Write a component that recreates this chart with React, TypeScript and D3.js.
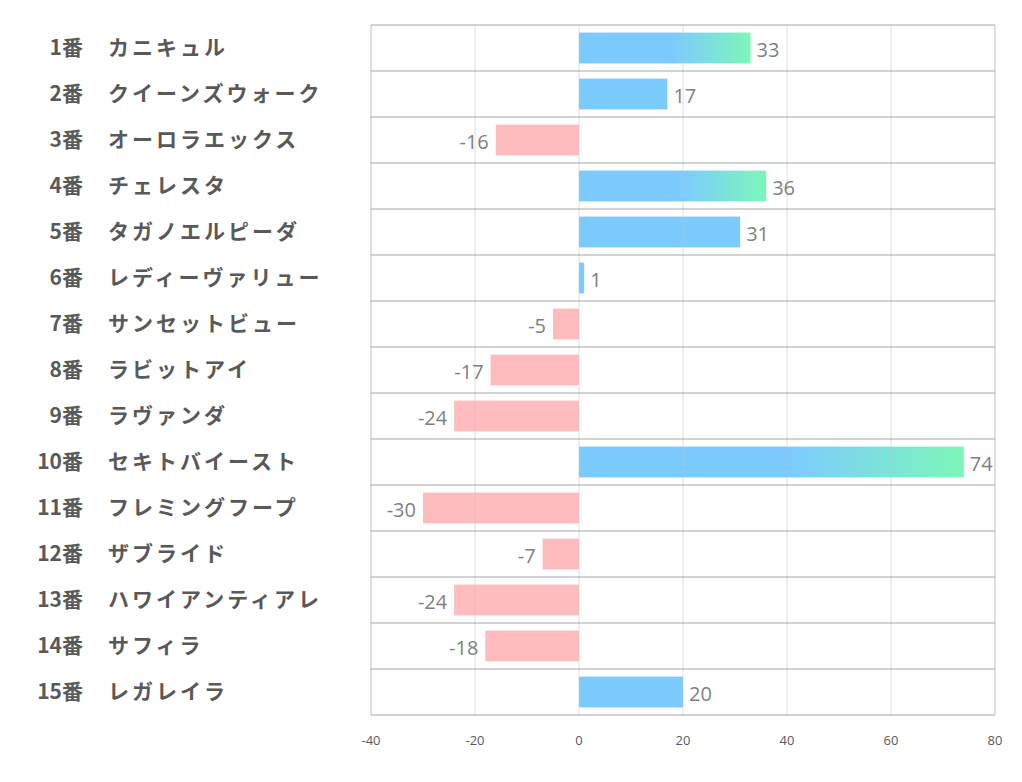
import React from "react";
import * as d3 from "d3";

const numbers = ["1番","2番","3番","4番","5番","6番","7番","8番","9番","10番","11番","12番","13番","14番","15番"];
const names = ["カニキュル","クイーンズウォーク","オーロラエックス","チェレスタ","タガノエルピーダ","レディーヴァリュー","サンセットビュー","ラビットアイ","ラヴァンダ","セキトバイースト","フレミングフープ","ザブライド","ハワイアンティアレ","サフィラ","レガレイラ"];
const values = [33,17,-16,36,31,1,-5,-17,-24,74,-30,-7,-24,-18,20];
const ticks = [-40,-20,0,20,40,60,80];

export default function App() {
  const W = 1022, H = 782;
  const left = 371, right = 995, top = 25, bottom = 715;
  const x = d3.scaleLinear().domain([-40, 80]).range([left, right]);
  const y = d3.scaleBand<number>().domain(d3.range(values.length)).range([top, bottom]).paddingInner(0.33).paddingOuter(0.165);
  const step = (bottom - top) / values.length;
  const top3 = [...values].sort((a, b) => b - a).slice(0, 3);
  const jp = "'Noto Sans CJK JP', 'Noto Sans', sans-serif";
  const lat = "'Open Sans', 'Noto Sans', sans-serif";
  return (
    <svg width={W} height={H} style={{ position: "absolute", left: 0, top: 0, background: "#fff" }}>
      <defs>
        <linearGradient id="grad" x1="0" x2="1" y1="0" y2="0">
          <stop offset="0.55" stopColor="#7ccbff" />
          <stop offset="1" stopColor="#7cf7b9" />
        </linearGradient>
      </defs>
      {values.map((v, i) => {
        const x0 = x(Math.min(0, v)), x1 = x(Math.max(0, v));
        const fill = v < 0 ? "#ffbcbf" : top3.includes(v) ? "url(#grad)" : "#7ccbff";
        return <rect key={i} x={x0} y={y(i)!} width={x1 - x0} height={y.bandwidth()} fill={fill} />;
      })}
      {ticks.map((t) => (
        <line key={t} x1={x(t)} x2={x(t)} y1={top} y2={bottom} stroke="#bfbfbf" strokeOpacity={t === -40 || t === 80 ? 1 : 0.5} strokeWidth={1} />
      ))}
      {d3.range(values.length + 1).map((i) => (
        <line key={i} x1={left} x2={right} y1={top + i * step} y2={top + i * step} stroke="#a6a6a6" strokeWidth={1} />
      ))}
      {values.map((v, i) => (
        <text key={i} x={v < 0 ? x(v) - 7 : x(v) + 6} y={y(i)! + y.bandwidth() / 2 + 1} dominantBaseline="central"
          textAnchor={v < 0 ? "end" : "start"} fontFamily={lat} fontSize={20} fill="#7f7f7f">{v}</text>
      ))}
      {numbers.map((n, i) => (
        <text key={i} x={83} y={top + i * step + step / 2 - 2} dominantBaseline="central" textAnchor="end"
          fontFamily={jp} fontWeight="bold" fontSize={21} fill="#595959">{n}</text>
      ))}
      {names.map((n, i) => (
        <text key={i} x={108} y={top + i * step + step / 2 - 2} dominantBaseline="central" textAnchor="start"
          fontFamily={jp} fontWeight="bold" fontSize={21} letterSpacing={3} fill="#595959">{n}</text>
      ))}
      {ticks.map((t) => (
        <text key={t} x={x(t)} y={740} dominantBaseline="central" textAnchor="middle" fontFamily={lat} fontSize={13} fill="#595959">{t}</text>
      ))}
    </svg>
  );
}
